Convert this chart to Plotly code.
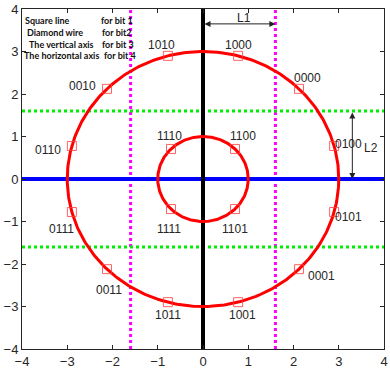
import numpy as np
import plotly.graph_objects as go

# 16-APSK constellation: inner ring and outer ring
ring_radii = [1, 3]
inner_angles_deg = [45, 135, 225, 315]
inner_bits = ["1100", "1110", "1111", "1101"]
outer_angles_deg = [15, 45, 75, 105, 135, 165, 195, 225, 255, 285, 315, 345]
outer_bits = ["0100", "0000", "1000", "1010", "0010", "0110",
              "0111", "0011", "1011", "1001", "0001", "0101"]

# decision thresholds
threshold_x = [-1.6, 1.6]
threshold_y = [-1.6, 1.6]

# label offsets (pixels) relative to each point
inner_offsets = [(8, 13), (-2, 13), (-2, -20), (0, -20)]
outer_offsets = [(14, 2), (9, 11), (0, 11), (-6, 11), (-25, 3), (-24, -4),
                 (-10, -17), (2, -21), (0, -13), (4, -13), (23, -7), (14, -5)]

legend_rows = [("Square line", "for bit 1"),
               ("Diamond wire", "for bit2"),
               ("The vertical axis", "for bit 3"),
               ("The horizontal axis", "for bit 4")]
legend_left_x = [-3.98, -3.93, -3.89, -3.99]
legend_right_x = [-2.29, -2.27, -2.27, -2.24]

fig = go.Figure()

# threshold lines
for xv in threshold_x:
    fig.add_trace(go.Scatter(x=[xv, xv], y=[-4, 4], mode="lines",
                             line=dict(color="#ff00ff", width=3, dash="dot"),
                             hoverinfo="skip"))
for yv in threshold_y:
    fig.add_trace(go.Scatter(x=[-4, 4], y=[yv, yv], mode="lines",
                             line=dict(color="#00ee00", width=3, dash="dot"),
                             hoverinfo="skip"))

# axes lines
fig.add_trace(go.Scatter(x=[-4, 4], y=[0, 0], mode="lines",
                         line=dict(color="#0000ff", width=4), hoverinfo="skip"))
fig.add_trace(go.Scatter(x=[0, 0], y=[-4, 4], mode="lines",
                         line=dict(color="#000000", width=4), hoverinfo="skip"))

# rings
t = np.linspace(0, 2 * np.pi, 361)
for r in ring_radii:
    fig.add_trace(go.Scatter(x=r * np.cos(t), y=r * np.sin(t), mode="lines",
                             line=dict(color="#ff0000", width=3), hoverinfo="skip"))

# constellation points
def pts(r, angles):
    a = np.deg2rad(angles)
    return r * np.cos(a), r * np.sin(a)

xi, yi = pts(ring_radii[0], inner_angles_deg)
xo, yo = pts(ring_radii[1], outer_angles_deg)
fig.add_trace(go.Scatter(x=np.concatenate([xi, xo]), y=np.concatenate([yi, yo]),
                         mode="markers",
                         marker=dict(symbol="square-open", size=9,
                                     color="rgba(255,60,60,0.8)",
                                     line=dict(width=1))))

label_font = dict(family="Liberation Sans, Arial", size=12, color="#262626")
annotations = []
for x, y, b, (dx, dy) in zip(np.concatenate([xi, xo]), np.concatenate([yi, yo]),
                             inner_bits + outer_bits, inner_offsets + outer_offsets):
    annotations.append(dict(x=x, y=y, text=b, showarrow=False, xshift=dx, yshift=dy,
                            font=label_font))

# L1 / L2 distance arrows
annotations.append(dict(x=threshold_x[1], y=3.65, ax=0, ay=3.65, xref="x", yref="y",
                        axref="x", ayref="y", text="", showarrow=True,
                        arrowhead=2, startarrowhead=2, arrowside="end+start",
                        arrowsize=1.2, arrowwidth=1, arrowcolor="#222"))
annotations.append(dict(x=0.9, y=3.65, text="L1", showarrow=False, yshift=6,
                        font=label_font))
annotations.append(dict(x=3.3, y=0, ax=3.3, ay=threshold_y[1], xref="x", yref="y",
                        axref="x", ayref="y", text="", showarrow=True,
                        arrowhead=2, startarrowhead=2, arrowside="end+start",
                        arrowsize=1.2, arrowwidth=1, arrowcolor="#222"))
annotations.append(dict(x=3.72, y=0.72, text="L2", showarrow=False, font=label_font))

# bit-mapping note
note_font = dict(family="Lato, Liberation Sans", size=9, color="#111")
for i, (left, right) in enumerate(legend_rows):
    yv = 3.72 - i * 0.275
    annotations.append(dict(x=legend_left_x[i], y=yv, text="<b>%s</b>" % left,
                            showarrow=False, xanchor="left", font=note_font))
    annotations.append(dict(x=legend_right_x[i], y=yv, text="<b>%s</b>" % right,
                            showarrow=False, xanchor="left", font=note_font))

axis_common = dict(range=[-4, 4], tickmode="array", tickvals=list(range(-4, 5)),
                   showgrid=False, zeroline=False, showline=True, linecolor="#262626",
                   linewidth=1, mirror="allticks", ticks="inside", ticklen=4,
                   tickcolor="#262626", ticklabeloverflow="allow",
                   tickfont=dict(family="Liberation Sans, Arial", size=13, color="#262626"))

fig.update_layout(width=390, height=371, showlegend=False,
                  margin=dict(l=22, r=2, t=7, b=19),
                  plot_bgcolor="white", paper_bgcolor="white",
                  xaxis=axis_common, yaxis=axis_common,
                  annotations=annotations)

fig.write_html("out.html")
